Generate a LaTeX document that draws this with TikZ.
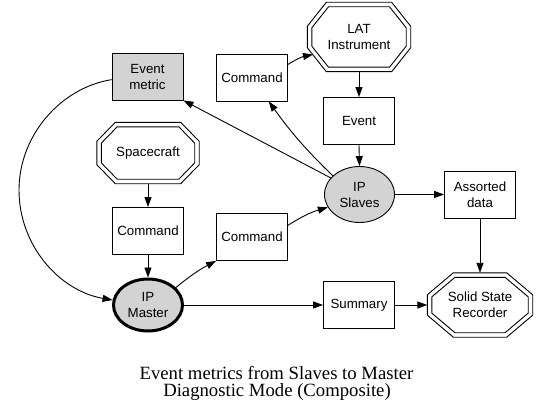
\documentclass[tikz,border=0pt]{standalone}
\usepackage{fontspec}
\setmainfont{Liberation Sans}
\newfontfamily\capfont{Liberation Serif}
\usetikzlibrary{arrows.meta,calc,shapes.geometric}
\definecolor{lgray}{HTML}{D3D3D3}
\newcommand\octpath[4]{%
  \draw[line width=0.9pt] ($(#1.north west)+(#2+#3,-#2)$) -- ($(#1.north east)+(-#2-#3,-#2)$)
    -- ($(#1.north east)+(-#2,-#2-#4)$) -- ($(#1.south east)+(-#2,#2+#4)$)
    -- ($(#1.south east)+(-#2-#3,#2)$) -- ($(#1.south west)+(#2+#3,#2)$)
    -- ($(#1.south west)+(#2,#2+#4)$) -- ($(#1.north west)+(#2,-#2-#4)$) -- cycle;}
\newcommand\dbloct[3]{%
  \pgfmathsetmacro\oL{veclen(#2,#3)}%
  \pgfmathsetmacro\icx{#2+4.5*(\oL-#2)/#3-4.5}%
  \pgfmathsetmacro\icy{#3+4.5*(\oL-#3)/#2-4.5}%
  \octpath{#1}{0}{#2}{#3}%
  \octpath{#1}{4.5}{\icx}{\icy}}
\begin{document}
\begin{tikzpicture}[x=1pt,y=1pt,
  every node/.style={font=\fontsize{13.3}{16}\selectfont, align=center, inner sep=0pt},
  box/.style={draw, line width=0.9pt, minimum width=71pt, minimum height=47pt},
  ell/.style={draw, ellipse, fill=lgray, line width=0.9pt, minimum width=70pt, minimum height=56pt},
  oct/.style 2 args={minimum width=#1pt, minimum height=#2pt},
  arr/.style={-{Triangle[length=10pt,width=7pt]}, line width=0.9pt},
  captxt/.style={font=\capfont\fontsize{18.7}{20}\selectfont, anchor=base}]
\useasboundingbox (0,0) rectangle (551,416);
\node[box, fill=lgray] (em) at (147.5,339.5) {Event\\metric};
\node[box] (cmdT) at (252,338.5) {Command};
\node[oct={103}{69}] (lat) at (359,379) {LAT\\Instrument};
\node[box] (ev) at (359,295) {Event};
\node[ell] (ips) at (359.5,221.5) {IP\\Slaves};
\node[box] (ad) at (480,221.5) {Assorted\\data};
\node[oct={105}{64}] (ssr) at (480,111) {Solid State\\Recorder};
\node[box] (sum) at (359,111) {Summary};
\node[oct={102}{61}] (sc) at (148,263) {Spacecraft};
\node[box] (cmdL) at (148,185) {Command};
\node[box] (cmdM) at (252,179) {Command};
\node[ell, line width=3pt, minimum width=69pt, minimum height=52pt] (ipm) at (148,111) {IP\\Master};
\dbloct{lat}{19}{24}
\dbloct{sc}{18.5}{19}
\dbloct{ssr}{26}{22}
\draw[arr] (em.185) .. controls (60,328) and (19,280) .. (19,226) .. controls (19,170) and (60,125) .. (ipm.172);
\draw[arr] (ips.150) -- (em.south east);
\draw[arr] (ips.145) to[bend left=5] (cmdT.-55);
\draw[arr] (cmdT.20) to[bend left=10] ($(lat.center)+(-46,-17.5)$);
\draw[arr] (lat.south) -- (ev.north);
\draw[arr] (ev.south) -- (ips.north);
\draw[arr] (ips.east) -- (ad.west);
\draw[arr] (ad.south) -- (ssr.north);
\draw[arr] (sc.south) -- (cmdL.north);
\draw[arr] (cmdL.south) -- (ipm.north);
\draw[arr] (ipm.32) to[bend left=6] (cmdM.south west);
\draw[arr] (cmdM.18) to[bend left=8] (ips.202);
\draw[arr] (ipm.east) -- (sum.west);
\draw[arr] (sum.east) -- (ssr.west);
\node[captxt] (cap1) at (276.5,36.7) {Event metrics from Slaves to Master};
\node[captxt] (cap2) at (277,19.3) {Diagnostic Mode (Composite)};
\end{tikzpicture}
\end{document}
